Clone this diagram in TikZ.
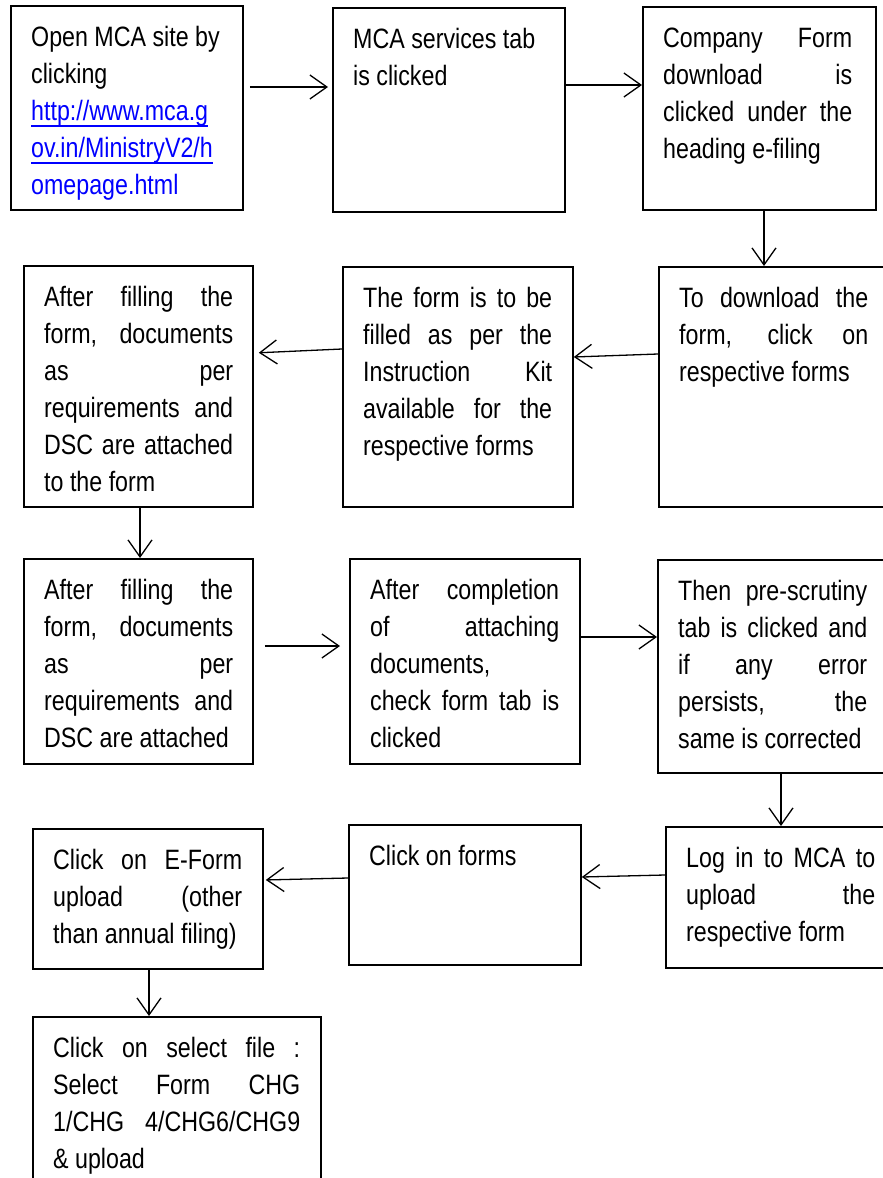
\documentclass[tikz,border=0pt]{standalone}
\usepackage{fontspec}
\setmainfont{Liberation Sans}[FakeStretch=0.83]
\usetikzlibrary{arrows.meta,calc}
\definecolor{linkblue}{RGB}{0,0,255}
\newcommand{\jline}[1]{\hbox to \hsize{\strut #1}}
\newcommand{\pline}[1]{\hbox{\strut #1}}
\newcommand{\myul}[1]{\setbox0=\hbox{#1}\rlap{\rule[-6.5pt]{\wd0}{2pt}}\box0}
\newcommand{\flowbox}[7]{%
  \node[fbox, minimum width=#4pt, minimum height=#5pt] (#1) at (#2,#3) {};
  \node[ftext] (#1-text) at ($(#1.north west)+(21,15.1)$) {\vbox{\hsize=#6pt #7}};
}
\tikzset{
  fbox/.style={draw, line width=1.8pt, inner sep=0pt, anchor=north west},
  ftext/.style={inner sep=0pt, anchor=north west, font=\fontsize{28pt}{37pt}\selectfont},
  arr/.style={line width=1.3pt, -{Straight Barb[length=17pt,width=24pt]}},
}
\begin{document}
\begin{tikzpicture}[x=1pt,y=-1pt]
\useasboundingbox (0,0) rectangle (883,1178);
\fill[white] (0,0) rectangle (883,1178);
\clip (0,0) rectangle (883,1178);

% row 1
\flowbox{A}{10}{5}{232}{204}{189}{%
  \pline{Open MCA site by}\pline{clicking}%
  \pline{\color{linkblue}\myul{http://www.mca.g}}%
  \pline{\color{linkblue}\myul{ov.in/MinistryV2/h}}%
  \pline{\color{linkblue}omepage.html}}
\flowbox{B}{332}{7}{232}{204}{189}{%
  \pline{MCA services tab}\pline{is clicked}}
\flowbox{C}{642}{6}{233}{203}{189}{%
  \jline{Company Form}\jline{download is}\jline{clicked under the}\pline{heading e-filing}}

% row 2
\flowbox{D}{658}{266}{232}{240}{189}{%
  \jline{To download the}\jline{form, click on}\pline{respective forms}}
\flowbox{E}{342}{266}{230}{240}{189}{%
  \jline{The form is to be}\jline{filled as per the}\jline{Instruction Kit}\jline{available for the}\pline{respective forms}}
\flowbox{F}{23}{265}{229}{241}{189}{%
  \jline{After filling the}\jline{form, documents}\jline{as per}\jline{requirements and}\jline{DSC are attached}\pline{to the form}}

% row 3
\flowbox{G}{23}{558}{229}{205}{189}{%
  \jline{After filling the}\jline{form, documents}\jline{as per}\jline{requirements and}\pline{DSC are attached}}
\flowbox{H}{349}{558}{230}{205}{189}{%
  \jline{After completion}\jline{of attaching}\pline{documents,}\jline{check form tab is}\pline{clicked}}
\flowbox{I}{657}{559}{233}{213}{189}{%
  \jline{Then pre-scrutiny}\jline{tab is clicked and}\jline{if any error}\jline{persists, the}\pline{same is corrected}}

% row 4
\flowbox{J}{665}{826}{232}{141}{189}{%
  \jline{Log in to MCA to}\jline{upload the}\pline{respective form}}
\flowbox{K}{348}{824}{232}{140}{189}{%
  \pline{Click on forms}}
\flowbox{L}{32}{828}{230}{140}{189}{%
  \jline{Click on E-Form}\jline{upload (other}\pline{than annual filing)}}

% row 5
\flowbox{M}{32}{1016}{288}{200}{247}{%
  \jline{Click on select file :}\jline{Select Form CHG}\jline{1/CHG 4/CHG6/CHG9}\pline{\& upload}}

% connectors
\coordinate (c1) at ($(A.north east)+(0,82)$);
\draw[arr, shorten <=6pt, shorten >=4pt] (c1) -- (c1 -| B.west);
\coordinate (c2) at ($(B.north east)+(0,78)$);
\draw[arr] (c2) -- (c2 -| C.west);
\coordinate (c3) at ($(C.south west)+(122,0)$);
\draw[arr] (c3) -- (c3 |- D.north);
\draw[arr] ($(D.north west)+(0,88)$) -- ($(E.north east)+(0,91)$);
\draw[arr, shorten >=5pt] ($(E.north west)+(0,83)$) -- ($(F.north east)+(0,88)$);
\coordinate (c6) at ($(F.south west)+(117,0)$);
\draw[arr] (c6) -- (c6 |- G.north);
\coordinate (c7) at ($(G.north east)+(0,88)$);
\draw[arr, shorten <=11pt, shorten >=9pt] (c7) -- (c7 -| H.west);
\coordinate (c8) at ($(H.north east)+(0,79)$);
\draw[arr] (c8) -- (c8 -| I.west);
\coordinate (c9) at ($(I.south west)+(124,0)$);
\draw[arr] (c9) -- (c9 |- J.north);
\draw[arr] ($(J.north west)+(0,49)$) -- ($(K.north east)+(0,53)$);
\draw[arr, shorten >=2pt] ($(K.north west)+(0,54)$) -- ($(L.north east)+(0,52)$);
\coordinate (c12) at ($(L.south west)+(117,0)$);
\draw[arr] (c12) -- (c12 |- M.north);
\end{tikzpicture}
\end{document}
